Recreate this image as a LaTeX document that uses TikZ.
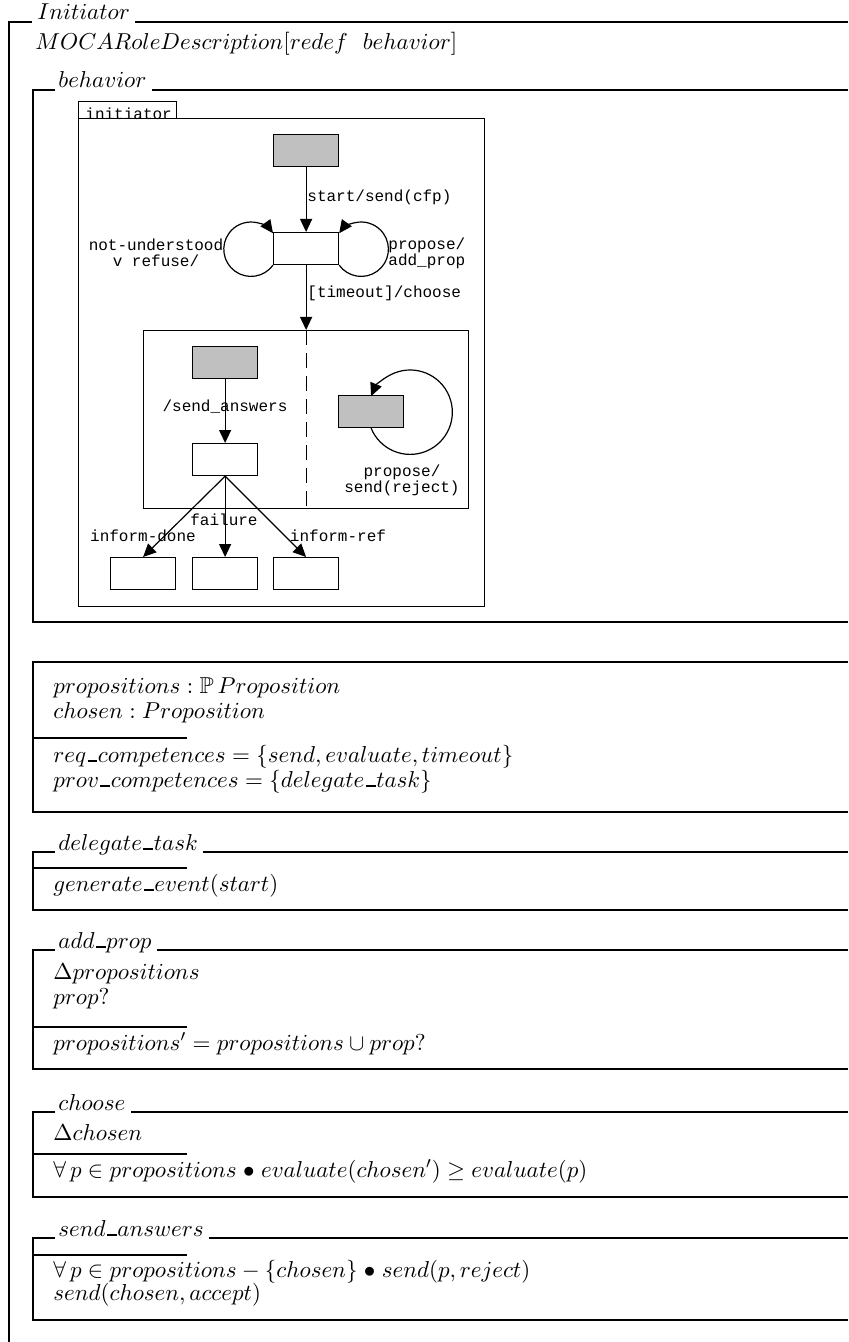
\RequirePackage{fix-cm}
\documentclass[tikz,border=0pt]{standalone}
\usepackage{amssymb}
\usepackage{graphicx}
\usepackage{fontspec}
\newfontfamily\scmono{Liberation Mono}
\usetikzlibrary{arrows.meta}
\definecolor{gbfill}{RGB}{192,192,192}
\newcommand\zsz{\fontsize{11.5}{12.5}\selectfont}
\newcommand\msz{\scmono\fontsize{8}{8}\selectfont}
\newcommand\zu{\mbox{\kern.06em\vbox{\hrule width .42em height .07em}\kern.03em}}
\begin{document}
\begin{tikzpicture}[x=0.5pt,y=-0.5pt,
  zline/.style={line width=1pt},
  sline/.style={line width=0.6pt},
  ztext/.style={anchor=base west,inner sep=0pt,font=\zsz},
  lbl/.style={inner sep=0pt,font=\msz},
  stbox/.style={draw,sline,anchor=north west,minimum width=32.5pt,minimum height=16pt,inner sep=0pt},
  gbox/.style={stbox,fill=gbfill},
  arr/.style={sline,-{Triangle[length=6.5pt,width=6pt]}},
]
\fill[white] (0,0) rectangle (848,1342);
\useasboundingbox (0,0) rectangle (848,1342);

% outer schema Initiator
\node[ztext] (tInit) at (37,20) {$Initiator$};
\draw[zline] (9,1342) -- (9,22) -- (32,22);
\draw[zline] (tInit.east |- 0,22) ++(5,0) -- (848,22);
\node[ztext] (moca) at (35,50) {$MOCARoleDescription[redef~~behavior]$};

% behavior frame
\node[ztext] (tBeh) at (58,88) {$behavior$};
\draw[zline] (848,622) -- (33,622) -- (33,90) -- (55,90);
\draw[zline] (tBeh.east |- 0,90) ++(5,0) -- (848,90);

% statechart
\node[stbox,minimum width=49pt,minimum height=8.5pt] (tab) at (78,101) {};
\node[lbl,anchor=base west] (tabl) at (85,120) {initiator};
\node[stbox,line width=0.7pt,minimum width=203pt,minimum height=244pt] (main) at (78,118) {};

\node[gbox] (s0) at (273,134) {};
\node[stbox] (s1) at (273,232) {};
\draw[arr] (s0.south) -- (s1.north);
\node[lbl,anchor=west] (l0) at (307,197) {start/send(cfp)};
\draw[arr] (s1.south west) arc[start angle=36,end angle=324,radius=27.2];
\draw[arr] (s1.south east) arc[start angle=144,end angle=-144,radius=27.2];
\node[lbl,align=center] (lnu) at (156,253) {not-understood\\v refuse/};
\node[lbl,align=left,anchor=west] (lpr) at (388,253) {propose/\\add\_prop};

\node[stbox,minimum width=162.5pt,minimum height=89pt] (comp) at (143,330) {};
\draw[arr] (s1.south) -- (comp.north);
\node[lbl,anchor=west] (l1) at (307,293) {[timeout]/choose};
\draw[sline,dash pattern=on 7.5pt off 4pt] (comp.north) -- (comp.south);

\node[gbox] (g1) at (192,346) {};
\node[stbox] (w1) at (192,443) {};
\draw[arr] (g1.south) -- (w1.north);
\node[lbl] (l2) at (225,407) {/send\_answers};
\node[gbox] (g2) at (338,395) {};
\draw[arr] (g2.south) arc[start angle=157.7,end angle=-157.7,radius=42.2];
\node[lbl,align=center] (l3) at (402,480) {propose/\\send(reject)};

\node[stbox] (b1) at (110,557) {};
\node[stbox] (b2) at (192,557) {};
\node[stbox] (b3) at (273,557) {};
\draw[arr] (w1.south) -- (b1.north);
\draw[arr] (w1.south) -- (b2.north);
\draw[arr] (w1.south) -- (b3.north);
\node[lbl] (l4) at (224,520) {failure};
\node[lbl] (l5) at (143,536) {inform-done};
\node[lbl] (l6) at (338,536) {inform-ref};

% unnamed schema
\draw[zline] (848,662) -- (33,662) -- (33,812) -- (848,812);
\draw[zline] (33,738) -- (187,738);
\node[ztext] (u1) at (53,693) {$propositions : \mathbb{P}\,Proposition$};
\node[ztext] (u2) at (53,718) {$chosen : Proposition$};
\node[ztext] (u3) at (53,762) {$req\zu competences = \{send, evaluate, timeout\}$};
\node[ztext] (u4) at (53,787) {$prov\zu competences = \{delegate\zu task\}$};

% delegate_task
\node[ztext] (tDel) at (58,850) {$delegate\zu task$};
\draw[zline] (848,910) -- (33,910) -- (33,852) -- (55,852);
\draw[zline] (tDel.east |- 0,852) ++(5,0) -- (848,852);
\draw[zline] (33,868) -- (187,868);
\node[ztext] (d1) at (53,891) {$generate\zu event(start)$};

% add_prop
\node[ztext] (tAdd) at (58,948) {$add\zu prop$};
\draw[zline] (848,1069) -- (33,1069) -- (33,950) -- (55,950);
\draw[zline] (tAdd.east |- 0,950) ++(5,0) -- (848,950);
\draw[zline] (33,1027) -- (187,1027);
\node[ztext] (a1) at (53,979) {$\Delta propositions$};
\node[ztext] (a2) at (53,1004) {$prop?$};
\node[ztext] (a3) at (53,1050) {$propositions' = propositions \cup prop?$};

% choose
\node[ztext] (tCho) at (58,1110) {$choose$};
\draw[zline] (848,1197) -- (33,1197) -- (33,1112) -- (55,1112);
\draw[zline] (tCho.east |- 0,1112) ++(5,0) -- (848,1112);
\draw[zline] (33,1154) -- (187,1154);
\node[ztext] (c1) at (53,1140) {$\Delta chosen$};
\node[ztext] (c2) at (53,1177) {$\forall\, p \in propositions \mathrel{\bullet} evaluate(chosen') \geq evaluate(p)$};

% send_answers
\node[ztext] (tSnd) at (58,1236) {$send\zu answers$};
\draw[zline] (848,1320) -- (33,1320) -- (33,1238) -- (55,1238);
\draw[zline] (tSnd.east |- 0,1238) ++(5,0) -- (848,1238);
\draw[zline] (33,1255) -- (187,1255);
\node[ztext] (n1) at (53,1277) {$\forall\, p \in propositions - \{chosen\} \mathrel{\bullet} send(p, reject)$};
\node[ztext] (n2) at (53,1300) {$send(chosen, accept)$};
\end{tikzpicture}
\end{document}
